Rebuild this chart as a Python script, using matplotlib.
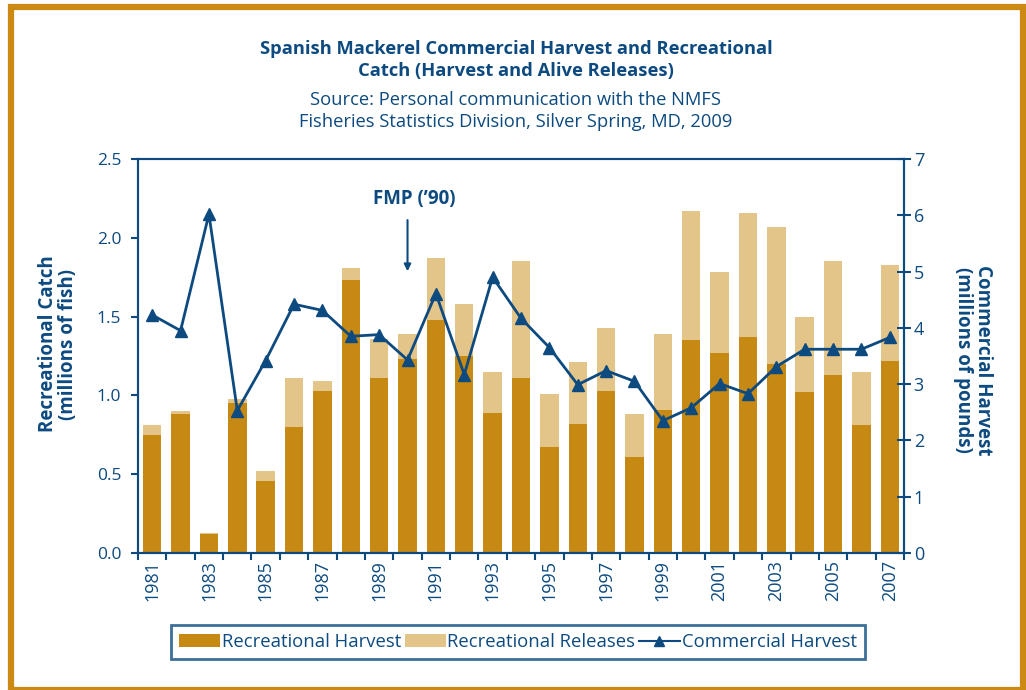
import matplotlib
matplotlib.use("Agg")
import matplotlib.pyplot as plt
from matplotlib.patches import Rectangle, Patch
from matplotlib.lines import Line2D
import numpy as np

plt.rcParams['font.family'] = ['Open Sans', 'DejaVu Sans']

years = list(range(1981, 2008))
rec_harvest = [0.75, 0.88, 0.12, 0.95, 0.46, 0.80, 1.03, 1.73, 1.11, 1.23,
               1.48, 1.25, 0.89, 1.11, 0.67, 0.82, 1.03, 0.61, 0.91, 1.35,
               1.27, 1.37, 1.20, 1.02, 1.13, 0.81, 1.22]
rec_total = [0.81, 0.90, 0.13, 0.98, 0.52, 1.11, 1.09, 1.81, 1.36, 1.39,
             1.87, 1.58, 1.15, 1.85, 1.01, 1.21, 1.43, 0.88, 1.39, 2.17,
             1.78, 2.16, 2.07, 1.50, 1.85, 1.15, 1.83]
comm_harvest = [4.23, 3.95, 6.02, 2.53, 3.42, 4.42, 4.31, 3.85, 3.88, 3.43,
                4.61, 3.17, 4.90, 4.17, 3.65, 2.99, 3.24, 3.05, 2.35, 2.58,
                3.01, 2.83, 3.31, 3.62, 3.62, 3.62, 3.83]
rec_releases = [t - h for t, h in zip(rec_total, rec_harvest)]

BLUE = '#0d4a80'
DARK = '#c68913'
LIGHT = '#e4c589'
FRAME = '#cc8a14'

fig = plt.figure(figsize=(10.26, 6.9), dpi=100)
fig.patches.append(Rectangle((10.5 / 1026, 0), 1012 / 1026, 683.5 / 690, transform=fig.transFigure,
                             fill=False, edgecolor=FRAME, linewidth=4.5, zorder=0))

ax = fig.add_axes([138 / 1026, 1 - 553 / 690, 766 / 1026, 394 / 690])
x = np.arange(len(years))
ax.bar(x, rec_harvest, width=0.65, color=DARK, zorder=2)
ax.bar(x, rec_releases, width=0.65, bottom=rec_harvest, color=LIGHT, zorder=2)
ax.set_xlim(-0.5, len(years) - 0.5)
ax.set_ylim(0, 2.5)
ax.set_yticks(np.arange(0, 2.51, 0.5))
ax.set_yticklabels([f'{v:.1f}' for v in np.arange(0, 2.51, 0.5)])
ax.set_xticks(np.arange(-0.5, len(years), 1.0))
ax.set_xticklabels([])
ax.set_xticks(x[::2], minor=True)
ax.set_xticklabels([str(y) for y in years[::2]], minor=True, rotation=90)
ax.tick_params(axis='x', which='major', direction='out', length=5, width=1.5, color=BLUE)
ax.tick_params(axis='x', which='minor', length=0, pad=5, labelsize=13, labelcolor=BLUE)
ax.tick_params(axis='y', direction='out', length=5, width=1.5, color=BLUE,
               labelsize=12.5, labelcolor=BLUE, pad=7)
for s in ax.spines.values():
    s.set_color(BLUE)
    s.set_linewidth(1.5)

ax2 = ax.twinx()
ax2.plot(x, comm_harvest, color=BLUE, lw=2, marker='^', ms=9, zorder=3)
ax2.set_ylim(0, 7)
ax2.set_yticks(range(0, 8))
ax2.tick_params(axis='y', direction='inout', length=10, width=1.5, color=BLUE,
                labelsize=13, labelcolor=BLUE, pad=2)
for s in ax2.spines.values():
    s.set_color(BLUE)
    s.set_linewidth(1.5)

ax.annotate('', xy=(9, 1.77), xytext=(9, 2.13),
            arrowprops=dict(arrowstyle='-|>', color=BLUE, lw=1.5, mutation_scale=10))
ax.text(9.25, 2.245, 'FMP (\u201990)', color=BLUE, fontsize=13.5, fontweight='bold',
        ha='center', va='center')

fig.text(58 / 1026, 1 - 344 / 690, 'Recreational Catch\n(millions of fish)', rotation=90,
         ha='center', va='center', color=BLUE, fontsize=13.5, fontweight='bold', linespacing=1.05)
fig.text(973 / 1026, 1 - 360 / 690, 'Commercial Harvest\n(millions of pounds)', rotation=270,
         ha='center', va='center', color=BLUE, fontsize=13.5, fontweight='bold', linespacing=1.05)

fig.text(516 / 1026, 1 - 60 / 690,
         'Spanish Mackerel Commercial Harvest and Recreational\nCatch (Harvest and Alive Releases)',
         ha='center', va='center', color=BLUE, fontsize=13.2, fontweight='bold', linespacing=1.35)
fig.text(516 / 1026, 1 - 111 / 690,
         'Source: Personal communication with the NMFS\nFisheries Statistics Division, Silver Spring, MD, 2009',
         ha='center', va='center', color=BLUE, fontsize=13.2, linespacing=1.35)

handles = [Patch(facecolor=DARK), Patch(facecolor=LIGHT),
           Line2D([], [], color=BLUE, lw=1.5, marker='^', ms=7)]
labels = ['Recreational Harvest', 'Recreational Releases', 'Commercial Harvest']
leg = fig.legend(handles, labels, loc='center', bbox_to_anchor=(518 / 1026, 1 - 642 / 690),
                 ncol=3, frameon=True, fancybox=False, fontsize=13.3, labelcolor=BLUE,
                 handlelength=2.2, handletextpad=0.1, columnspacing=0.2, borderpad=0.45)
leg.get_frame().set_edgecolor(BLUE)
leg.get_frame().set_linewidth(2)

fig.savefig('out.png', dpi=100)
